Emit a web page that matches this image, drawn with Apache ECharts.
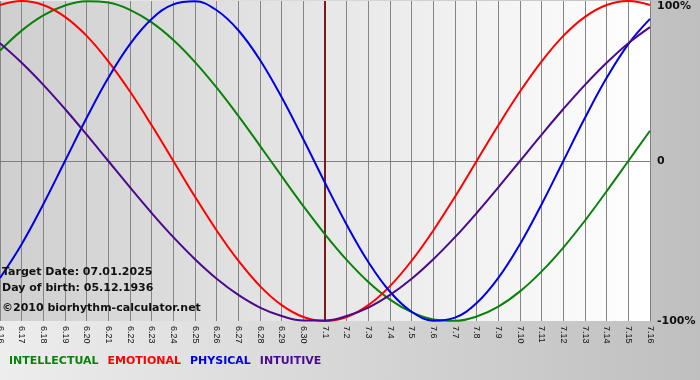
<!DOCTYPE html>
<html>
<head>
<meta charset="utf-8">
<script src="https://cdn.jsdelivr.net/npm/echarts@6/dist/echarts.min.js"></script>
<style>
html,body{margin:0;padding:0;}
#c{width:700px;height:380px;background:linear-gradient(to right,#ededed,#bfbfbf);}
</style>
</head>
<body>
<div id="c"></div>
<script>
const days = ['6.16','6.17','6.18','6.19','6.20','6.21','6.22','6.23','6.24','6.25','6.26','6.27','6.28','6.29','6.30',
  '7.1','7.2','7.3','7.4','7.5','7.6','7.7','7.8','7.9','7.10','7.11','7.12','7.13','7.14','7.15','7.16'];
const intellectual = [0.69,0.815,0.91,0.972,0.999,0.99,0.945,0.866,0.756,0.618,0.458,0.282,0.095,-0.095,-0.282,
  -0.458,-0.618,-0.756,-0.866,-0.945,-0.99,-0.999,-0.972,-0.91,-0.815,-0.69,-0.541,-0.372,-0.189,0,0.189];
const emotional = [0.975,1,0.975,0.901,0.782,0.623,0.434,0.223,0,-0.223,-0.434,-0.623,-0.782,-0.901,-0.975,
  -1,-0.975,-0.901,-0.782,-0.623,-0.434,-0.223,0,0.223,0.434,0.623,0.782,0.901,0.975,1,0.975];
const physical = [-0.731,-0.52,-0.27,0,0.27,0.52,0.731,0.888,0.979,0.998,0.942,0.817,0.631,0.398,0.136,
  -0.136,-0.398,-0.631,-0.817,-0.942,-0.998,-0.979,-0.888,-0.731,-0.52,-0.27,0,0.27,0.52,0.731,0.888];
const intuitive = [0.736,0.614,0.476,0.325,0.165,0,-0.165,-0.325,-0.476,-0.614,-0.736,-0.837,-0.916,-0.969,-0.997,
  -0.997,-0.969,-0.916,-0.837,-0.736,-0.614,-0.476,-0.325,-0.165,0,0.165,0.325,0.476,0.614,0.736,0.837];
const yTickValues = [-1, 0, 1];
const yTickLabels = ['-100%', '0', '100%'];
const targetDay = '7.1';
const infoLines = ['Target Date: 07.01.2025', 'Day of birth: 05.12.1936', '\u00A92010 biorhythm-calculator.net'];
const seriesNames = ['INTELLECTUAL', 'EMOTIONAL', 'PHYSICAL', 'INTUITIVE'];
const seriesColors = ['#0a820a', '#ff0000', '#0000e6', '#4b0a8c'];
const seriesData = [intellectual, emotional, physical, intuitive];

const chart = echarts.init(document.getElementById('c'), null, {renderer: 'canvas'});
const font = 'DejaVu Sans, Verdana, sans-serif';

const series = seriesNames.map((n, i) => ({
  name: n,
  type: 'line',
  data: seriesData[i],
  smooth: 0.4,
  showSymbol: false,
  symbol: 'none',
  lineStyle: {color: seriesColors[i], width: 2},
  itemStyle: {color: seriesColors[i]},
  z: 3
}));
series[0].markLine = {
  symbol: 'none',
  silent: true,
  label: {show: false},
  lineStyle: {color: '#7a1a1a', width: 2, type: 'solid'},
  data: [{xAxis: targetDay}],
  z: 1
};

chart.setOption({
  animation: false,
  backgroundColor: 'transparent',
  grid: {
    left: 0, right: 50, top: 1, bottom: 59,
    outerBoundsMode: 'none',
    containLabel: false,
    show: true,
    borderWidth: 0,
    backgroundColor: {type: 'linear', x: 0, y: 0, x2: 1, y2: 0,
      colorStops: [{offset: 0, color: '#cfcfcf'}, {offset: 1, color: '#ffffff'}]}
  },
  legend: {
    left: 4, top: 356,
    icon: 'none',
    itemWidth: 0, itemHeight: 10,
    itemGap: 4,
    padding: 0,
    selectedMode: false,
    data: seriesNames.map((n, i) => ({name: n, textStyle: {color: seriesColors[i]}})),
    textStyle: {fontFamily: font, fontSize: 11, fontWeight: 'bold'}
  },
  xAxis: {
    type: 'category',
    data: days,
    boundaryGap: false,
    axisLine: {show: true, lineStyle: {color: '#808080', width: 1}},
    axisTick: {show: true, length: 4, interval: 0, lineStyle: {color: '#808080'}},
    axisLabel: {interval: 0, rotate: -90, fontSize: 9, fontFamily: 'Liberation Sans, Arial, sans-serif', color: '#111', margin: 5},
    splitLine: {show: true, interval: 0, lineStyle: {color: '#858585', width: 1}}
  },
  yAxis: {
    type: 'value',
    position: 'right',
    min: -1, max: 1, interval: 1,
    axisLine: {show: true, lineStyle: {color: '#808080'}},
    axisTick: {show: false},
    axisLabel: {
      margin: 7, fontSize: 11, fontWeight: 'bold', fontFamily: font, color: '#111',
      verticalAlignMaxLabel: 'top',
      formatter: v => { const k = yTickValues.indexOf(v); return k >= 0 ? yTickLabels[k] : ''; }
    },
    splitLine: {show: true, lineStyle: {color: ['transparent', '#808080', 'transparent'], width: 1}}
  },
  graphic: infoLines.map((t, i) => ({
    type: 'text',
    left: 2,
    top: [267, 283, 303][i],
    z: 10,
    style: {text: t, fill: '#111', font: 'bold 11px ' + font}
  })),
  series: series
});
</script>
</body>
</html>
